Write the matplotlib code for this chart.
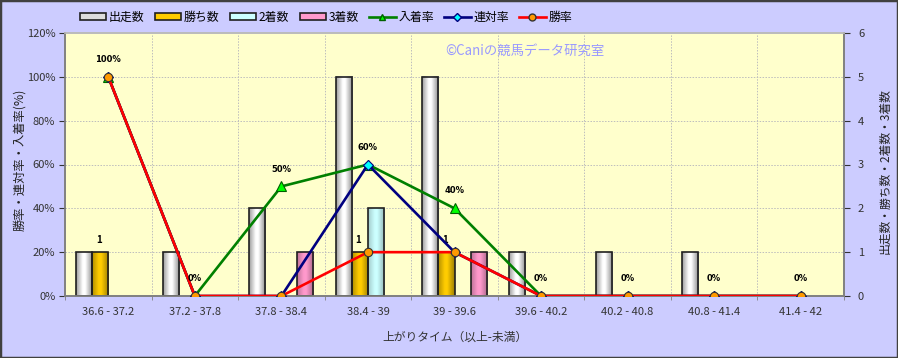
import matplotlib
matplotlib.use("Agg")
import matplotlib.pyplot as plt
import numpy as np
from matplotlib.colors import to_rgb
from matplotlib.lines import Line2D
from matplotlib.patches import Rectangle

plt.rcParams['font.family'] = ['Noto Sans CJK JP', 'DejaVu Sans']

# data
categories = ["36.6 - 37.2", "37.2 - 37.8", "37.8 - 38.4", "38.4 - 39", "39 - 39.6",
              "39.6 - 40.2", "40.2 - 40.8", "40.8 - 41.4", "41.4 - 42"]
runs = [1, 1, 2, 5, 5, 1, 1, 1, 0]          # 出走数
wins = [1, 0, 0, 1, 1, 0, 0, 0, 0]          # 勝ち数
seconds = [0, 0, 0, 2, 0, 0, 0, 0, 0]       # 2着数
thirds = [0, 0, 1, 0, 1, 0, 0, 0, 0]        # 3着数
place_rate = [100, 0, 50, 60, 40, 0, 0, 0, 0]   # 入着率
quinella_rate = [100, 0, 0, 60, 20, 0, 0, 0, 0] # 連対率
win_rate = [100, 0, 0, 20, 20, 0, 0, 0, 0]      # 勝率

BG = "#CCCCFF"
PLOT_BG = "#FFFFCC"

fig = plt.figure(figsize=(8.98, 3.58), dpi=100, facecolor=BG)
W, H = 898, 358
left, right, top, bottom = 65, 844, 33, 296
ax = fig.add_axes([left / W, 1 - bottom / H, (right - left) / W, (bottom - top) / H])
ax2 = ax.twinx()
ax.set_zorder(ax2.get_zorder() + 1)
ax.patch.set_visible(False)
ax2.patch.set_visible(True)
ax2.set_facecolor(PLOT_BG)

n = len(categories)
x = np.arange(n) + 0.5
bw = 0.185


def shade(color, f):
    r, g, b = to_rgb(color)
    return (r * f, g * f, b * f)


def gradient(color, dark):
    # cylinder-like horizontal shading: dark edges, light centre
    t = np.linspace(0, 1, 40)
    prof = np.interp(t, [0, 0.4, 0.55, 1], [dark, 1.0, 1.0, dark - 0.08])
    return np.array([[shade(color, p) for p in prof]])


series = [
    ("出走数", runs, "#FFFFFF", 0.62),
    ("勝ち数", wins, "#FFCC00", 0.70),
    ("2着数", seconds, "#CCFFFF", 0.80),
    ("3着数", thirds, "#FF99CC", 0.75),
]

# grid (behind the bars)
gridstyle = dict(color="#BDBDBD", linestyle=(0, (1.5, 1.5)), linewidth=0.7, zorder=0.5)
for b in range(1, n):
    ax2.axvline(b, **gridstyle)
for c in range(1, 6):
    ax2.axhline(c, **gridstyle)

for k, (name, vals, col, dark) in enumerate(series):
    img = gradient(col, dark)
    for i, v in enumerate(vals):
        if v <= 0:
            continue
        x0 = x[i] + (k - 2) * bw
        ax2.imshow(img, extent=(x0, x0 + bw, 0, v), aspect="auto", zorder=2,
                   interpolation="bilinear")
        ax2.add_patch(Rectangle((x0, 0), bw, v, fill=False, edgecolor="#202020",
                                linewidth=1.2, zorder=3))

# win count labels above the gold bars
for i, v in enumerate(wins):
    if v > 0:
        ax2.annotate(str(v), (x[i] - 0.5 * bw, v), xytext=(-1, 9), textcoords="offset points",
                     ha="center", va="center", fontsize=7, fontweight="bold", zorder=5)

ax2.set_xlim(0, n)
ax2.set_ylim(0, 6)
ax.set_xlim(0, n)
ax.set_ylim(0, 120)

ax.plot(x, place_rate, color="#008000", lw=1.9, marker="^", ms=7,
        mfc="#00FF00", mec="#006000", mew=0.8, zorder=4)
ax.plot(x, quinella_rate, color="#000080", lw=1.9, marker="D", ms=5,
        mfc="#00FFFF", mec="#000080", mew=0.8, zorder=5)
ax.plot(x, win_rate, color="#FF0000", lw=1.9, marker="o", ms=6,
        mfc="#FF9900", mec="#333333", mew=0.8, zorder=6)

for xi, v in zip(x, place_rate):
    ax.annotate(f"{v}%", (xi, v), xytext=(0, 12.5), textcoords="offset points",
                ha="center", va="center", fontsize=6, fontweight="bold",
                family="DejaVu Sans", zorder=7)

ax2.set_yticks(range(0, 7))
ax.set_xticks(x)
ax.set_xticklabels(categories)
ax.set_xticks(np.arange(n + 1), minor=True)
ax.tick_params(axis="x", which="major", length=0, labelsize=8, colors="#333333", pad=8)
ax.tick_params(axis="x", which="minor", length=3, color="#808080")
ax.set_yticks(range(0, 121, 20))
ax.set_yticklabels([f"{v}%" for v in range(0, 121, 20)])
ax.tick_params(axis="y", length=4, labelsize=8, colors="#333333", pad=3)
ax2.tick_params(axis="y", length=4, labelsize=8, colors="#333333", pad=6)
for a in (ax, ax2):
    for s in a.spines.values():
        s.set_color("#808080")
        s.set_linewidth(1.2)
    a.spines["top"].set_color("#BBBBBB")

ax.set_xlabel("上がりタイム（以上-未満）", fontsize=8.5, color="#333333", labelpad=10)
fig.text(20 / W, 1 - 160 / H, "勝率・連対率・入着率(%)", rotation=90, ha="center", va="center",
         fontsize=8.8, color="#222222")
fig.text(885 / W, 1 - 171 / H, "出走数・勝ち数・2着数・3着数", rotation=90, ha="center", va="center",
         fontsize=8.5, color="#222222")

fig.text(445 / W, 1 - 51 / H, "©Caniの競馬データ研究室", ha="left", va="center",
         fontsize=9.6, color="#9999FF")

handles = [Rectangle((0, 0), 1, 1, facecolor=c if c != "#FFFFFF" else "#DDDDDD",
                     edgecolor="#202020", linewidth=1.2) for _, _, c, _ in series]
handles += [
    Line2D([], [], color="#008000", lw=1.9, marker="^", ms=5, mfc="#00FF00", mec="#006000"),
    Line2D([], [], color="#000080", lw=1.9, marker="D", ms=4, mfc="#00FFFF", mec="#000080"),
    Line2D([], [], color="#FF0000", lw=1.9, marker="o", ms=5, mfc="#FF9900", mec="#333333"),
]
labels = [s[0] for s in series] + ["入着率", "連対率", "勝率"]
fig.legend(handles, labels, loc="center", bbox_to_anchor=(326 / W, 1 - 17 / H), ncol=7,
           frameon=False, fontsize=8.6, handlelength=2.2, handleheight=0.55,
           handletextpad=0.25, columnspacing=0.85, borderpad=0)

fig.patches.append(Rectangle((0, 0), 1, 1, transform=fig.transFigure, fill=False,
                             edgecolor="#404040", linewidth=2.5))

fig.savefig("out.png", dpi=100, facecolor=BG)
